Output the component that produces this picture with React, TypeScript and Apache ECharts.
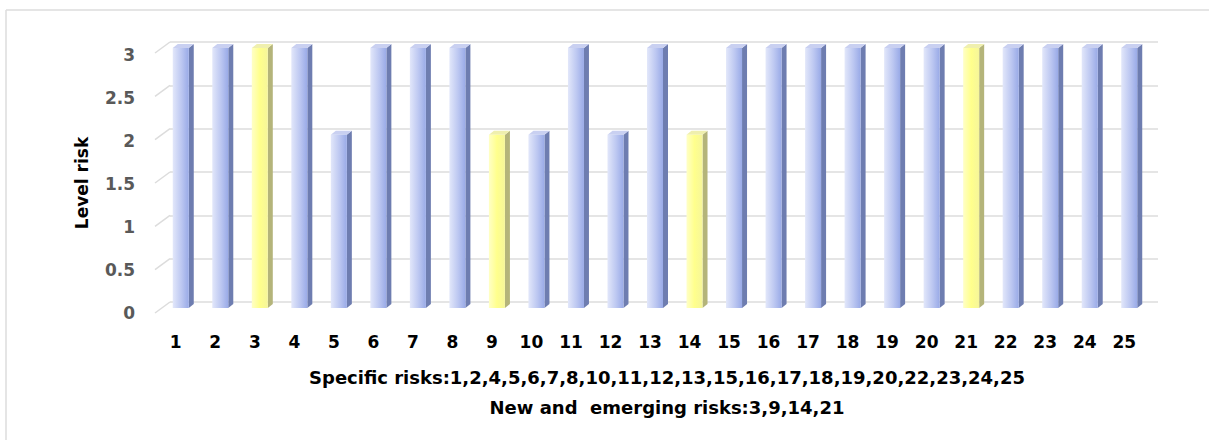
import React, { useEffect, useRef } from "react";
import * as echarts from "echarts";

// Risk numbers along the horizontal axis
const riskIds: string[] = Array.from({ length: 25 }, (_, i) => String(i + 1));
// Level of each risk, in the same order
const riskLevels: number[] = [3, 3, 3, 3, 2, 3, 3, 3, 2, 2, 3, 2, 3, 2, 3, 3, 3, 3, 3, 3, 3, 3, 3, 3, 3];
// Risks that belong to the "new and emerging" group
const emergingRisks: number[] = [3, 9, 14, 21];
// Tick values for the level axis
const levelTicks: number[] = [0, 0.5, 1, 1.5, 2, 2.5, 3];

const specificText =
  "Specific risks:" +
  riskIds.filter((id) => !emergingRisks.includes(Number(id))).join(",");
const emergingText = "New and  emerging risks:" + emergingRisks.join(",");

const FONT = "DejaVu Sans";
const GRID_COLOR = "#dcdcdc";

// Depth offsets for the pseudo-3D look
const BAR_DX = -9;
const BAR_DY = 6;
const FACE_W = 16;
const SIDE_W = 5;
const TOP_H = 4;
const WALL_DX = -15;
const WALL_DY = 11;

const blueFront = new echarts.graphic.LinearGradient(0, 0, 1, 0, [
  { offset: 0, color: "#e2e7fa" },
  { offset: 0.55, color: "#bcc7f1" },
  { offset: 1, color: "#99aae7" },
]);
const yellowFront = new echarts.graphic.LinearGradient(0, 0, 1, 0, [
  { offset: 0, color: "#ffffc6" },
  { offset: 0.5, color: "#ffff8c" },
  { offset: 1, color: "#f6f69a" },
]);

export default function App() {
  const ref = useRef<HTMLDivElement>(null);

  useEffect(() => {
    document.body.style.margin = "0";
    if (!ref.current) return;
    const chart = echarts.init(ref.current, undefined, { renderer: "svg" });

    const option: echarts.EChartsOption = {
      animation: false,
      backgroundColor: "#ffffff",
      grid: [
        { left: 170, top: 42, width: 988, height: 260 },
        { left: 156, top: 55, width: 988, height: 258 },
      ],
      xAxis: [
        {
          type: "category",
          gridIndex: 0,
          data: riskIds,
          axisLine: { show: false },
          axisTick: { show: false },
          axisLabel: { show: false },
        },
        {
          type: "category",
          gridIndex: 1,
          data: riskIds,
          axisLine: { show: false },
          axisTick: { show: false },
          axisLabel: {
            margin: 20,
            color: "#000000",
            fontFamily: FONT,
            fontWeight: "bold",
            fontSize: 17,
          },
        },
      ],
      yAxis: [
        {
          type: "value",
          gridIndex: 0,
          min: 0,
          max: 3,
          interval: 0.5,
          axisLine: { show: false },
          axisTick: { show: false },
          axisLabel: { show: false },
          splitLine: { lineStyle: { color: GRID_COLOR, width: 1.5 } },
        },
        {
          type: "value",
          gridIndex: 1,
          min: 0,
          max: 3,
          interval: 0.5,
          axisLine: { show: false },
          axisTick: { show: false },
          splitLine: { show: false },
          axisLabel: {
            margin: 21,
            color: "#595959",
            fontFamily: FONT,
            fontWeight: "bold",
            fontSize: 17,
          },
        },
      ],
      series: [
        {
          // diagonal wall edges at the left of each grid line
          type: "custom",
          xAxisIndex: 0,
          yAxisIndex: 0,
          silent: true,
          data: levelTicks.map((v) => [0, v]),
          renderItem: (params: any, api: any) => {
            const y = api.coord([0, api.value(1)])[1];
            const x = params.coordSys.x;
            return {
              type: "line",
              shape: { x1: x, y1: y, x2: x + WALL_DX, y2: y + WALL_DY },
              style: { stroke: GRID_COLOR, lineWidth: 1.5 },
            };
          },
        },
        {
          // pseudo-3D bars
          type: "custom",
          xAxisIndex: 0,
          yAxisIndex: 0,
          data: riskLevels.map((v, i) => [i, v]),
          renderItem: (params: any, api: any) => {
            const idx = api.value(0);
            const top = api.coord([idx, api.value(1)]);
            const base = api.coord([idx, 0]);
            const cx = top[0] + BAR_DX;
            const x0 = cx - FACE_W / 2;
            const x1 = x0 + FACE_W;
            const yTop = top[1] + BAR_DY;
            const yBot = base[1] + BAR_DY;
            const emerging = emergingRisks.includes(idx + 1);
            const front = emerging ? yellowFront : blueFront;
            const side = emerging ? "#b4b47a" : "#6e7db0";
            const lid = emerging ? "#efefae" : "#c9d0f1";
            return {
              type: "group",
              children: [
                {
                  type: "polygon",
                  shape: {
                    points: [
                      [x1, yTop],
                      [x1 + SIDE_W, yTop - TOP_H],
                      [x1 + SIDE_W, yBot - TOP_H],
                      [x1, yBot],
                    ],
                  },
                  style: { fill: side },
                },
                {
                  type: "polygon",
                  shape: {
                    points: [
                      [x0, yTop],
                      [x0 + SIDE_W, yTop - TOP_H],
                      [x1 + SIDE_W, yTop - TOP_H],
                      [x1, yTop],
                    ],
                  },
                  style: { fill: lid },
                },
                {
                  type: "rect",
                  shape: { x: x0, y: yTop, width: FACE_W, height: yBot - yTop },
                  style: { fill: front },
                },
              ],
            };
          },
        },
      ],
      graphic: [
        {
          type: "line",
          shape: { x1: 6, y1: 10, x2: 1209, y2: 10 },
          style: { stroke: GRID_COLOR, lineWidth: 1.5 },
        },
        {
          type: "line",
          shape: { x1: 6, y1: 10, x2: 6, y2: 440 },
          style: { stroke: GRID_COLOR, lineWidth: 1.5 },
        },
        {
          type: "text",
          x: 82,
          y: 183,
          rotation: Math.PI / 2,
          style: {
            text: "Level risk",
            fill: "#000000",
            font: `bold 17px "${FONT}"`,
            align: "center",
            verticalAlign: "middle",
          },
        },
        {
          type: "text",
          x: 667,
          y: 377,
          style: {
            text: specificText,
            fill: "#000000",
            font: `bold 18px "${FONT}"`,
            align: "center",
            verticalAlign: "middle",
          },
        },
        {
          type: "text",
          x: 667,
          y: 407,
          style: {
            text: emergingText,
            fill: "#000000",
            font: `bold 18px "${FONT}"`,
            align: "center",
            verticalAlign: "middle",
          },
        },
      ],
    };

    chart.setOption(option);
    return () => chart.dispose();
  }, []);

  return <div ref={ref} style={{ width: 1209, height: 440 }} />;
}
